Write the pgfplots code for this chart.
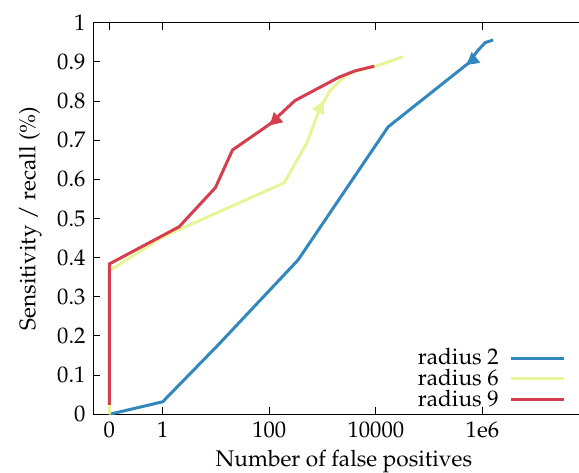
\documentclass[border=0pt]{standalone}
\usepackage[T1]{fontenc}
\usepackage{mathpazo}
\usepackage{pgfplots}
\pgfplotsset{compat=1.18}
\definecolor{cb}{RGB}{50,136,189}
\definecolor{cy}{RGB}{230,245,152}
\definecolor{cr}{RGB}{213,62,79}
\begin{document}
\fontsize{11.3}{13.5}\selectfont
\begin{tikzpicture}
\useasboundingbox (-46.7pt,-28.85pt) rectangle (242.8pt,207.15pt);
\begin{axis}[
  scale only axis, width=250.5pt, height=195.8pt,
  xmin=-1.3, xmax=8.1, ymin=0, ymax=1,
  xtick={-1,0,2,4,6}, xticklabels={0,1,100,10000,1e6},
  ytick={0,0.1,0.2,0.3,0.4,0.5,0.6,0.7,0.8,0.9,1},
  yticklabels={0,0.1,0.2,0.3,0.4,0.5,0.6,0.7,0.8,0.9,1},
  tick pos=both, tick align=inside, major tick length=3.5pt,
  axis line style={line width=0.6pt},
  every tick/.style={black, line width=0.5pt},
  /pgf/number format/assume math mode=true,
  xlabel={Number of false positives},
  ylabel={Sensitivity / recall (\%)},
  xlabel style={yshift=2pt},
  legend plot pos=right,
  legend cell align=right,
  legend style={draw=none, fill=none, at={(0.9553,-0.0092)}, anchor=south east, row sep=-3.5pt,
    /tikz/every odd column/.append style={column sep=3.5pt}},
  legend image code/.code={\draw[#1] (0cm,0cm) -- (0.93cm,0cm);},
]
\addplot[cb, line width=1.5pt] coordinates {
 (-1,0) (0,0.032) (1.04,0.177) (2.54,0.394) (4.23,0.734) (5.73,0.896) (5.92,0.930) (6.05,0.949) (6.20,0.956)};
\addlegendentry{radius 2}
\addplot[cy, line width=1.5pt] coordinates {
 (-1,0) (-1,0.367) (0,0.453) (2.28,0.591) (2.70,0.692) (2.95,0.781) (3.13,0.824) (3.31,0.850) (3.45,0.866) (3.6,0.876) (4.0,0.889) (4.51,0.913)};
\addlegendentry{radius 6}
\addplot[cr, line width=1.5pt] coordinates {
 (-1,0.024) (-1,0.384) (0.31,0.479) (0.99,0.579) (1.31,0.675) (2.01,0.741) (2.48,0.801) (3.31,0.861) (3.61,0.877) (3.97,0.889)};
\addlegendentry{radius 9}
\addplot[cb, only marks, mark=triangle*, mark size=3.6pt, mark options={rotate=129}, forget plot] coordinates {(5.82,0.905)};
\addplot[cy, only marks, mark=triangle*, mark size=3.6pt, mark options={rotate=-25}, forget plot] coordinates {(2.95,0.781)};
\addplot[cr, only marks, mark=triangle*, mark size=3.6pt, mark options={rotate=133}, forget plot] coordinates {(2.12,0.752)};
\end{axis}
\end{tikzpicture}
\end{document}
